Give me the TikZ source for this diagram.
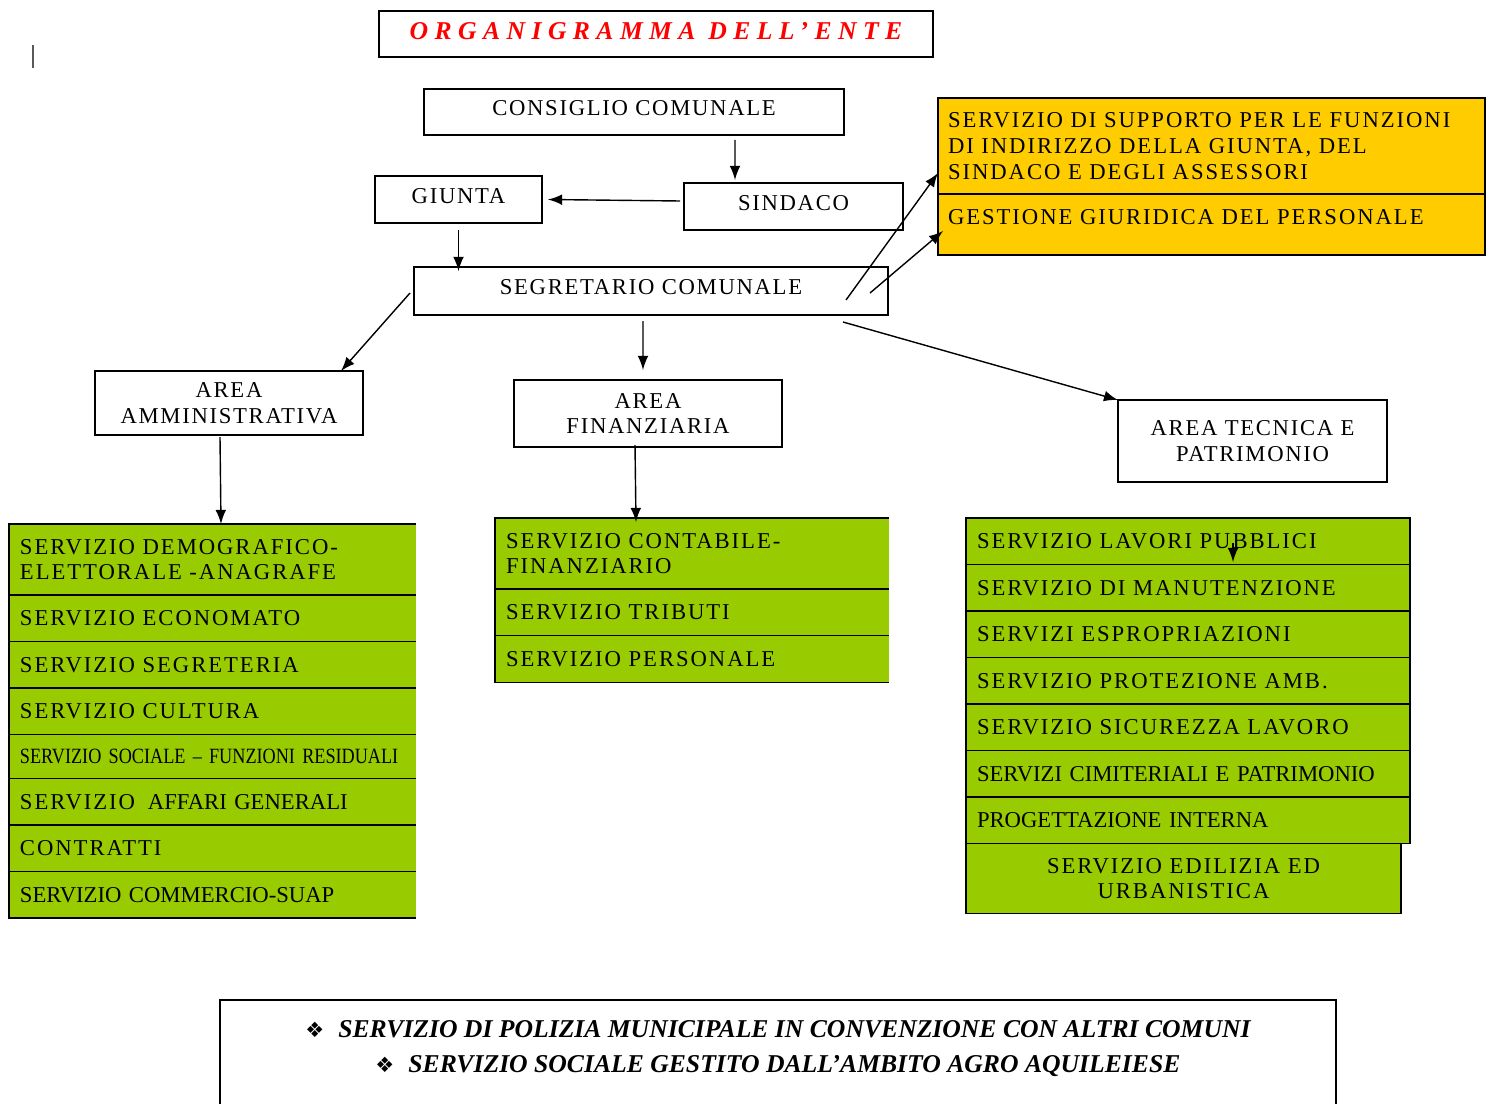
\documentclass[tikz,border=0pt]{standalone}
\usepackage{fontspec}
\setmainfont{Liberation Serif}
\newfontfamily\spcfont[LetterSpace=8.6]{Liberation Serif}
\newfontfamily\boxfont[LetterSpace=7.5]{Liberation Serif}
\newfontfamily\nrwfont[FakeStretch=0.835]{Liberation Serif}
\newfontfamily\ttlfont[LetterSpace=25]{Liberation Serif}
\newfontfamily\symfont{DejaVu Sans}
\usetikzlibrary{positioning}

\definecolor{grn}{RGB}{153,204,0}
\definecolor{ylw}{RGB}{255,204,0}
\newcommand{\sz}{\fontsize{6.45}{7.3}\selectfont}

\begin{document}
\begin{tikzpicture}[
	main/.style={rectangle, draw=black, inner sep=0pt, outer sep=0pt, align=center, font=\boxfont\sz},
	one/.style={main, text height=4.3pt, text depth=2.3pt},
	row/.style={rectangle, draw=black, fill=grn, inner ysep=0pt, inner xsep=0.11cm, outer sep=0pt, align=left, font=\spcfont\sz, minimum height=0.465cm},
	openrow/.style={row, draw=none},
	yrow/.style={row, fill=ylw, inner xsep=0.10cm, text width=5.27cm}
	]
	\useasboundingbox (0,0) rectangle (14.93,-11.03);
	\draw [gray!70!black, line width=0.5pt] (0.33,-0.45) -- (0.33,-0.68);

	\node (title) [main, minimum width=5.54cm, minimum height=0.46cm, text height=5pt, text depth=1.6pt, font=\ttlfont\fontsize{7.3}{8}\selectfont\bfseries\itshape, text=red] at (6.56,-0.34) {ORGANIGRAMMA DELL’ENTE};

	\node (consiglio) [one, minimum width=4.20cm, minimum height=0.46cm] at (6.34,-1.12) {CONSIGLIO COMUNALE};
		\node (giunta) [one, minimum width=1.67cm, minimum height=0.47cm] at (4.585,-1.995) {GIUNTA};
		\node (sindaco) [one, minimum width=2.19cm, minimum height=0.47cm] at (7.935,-2.065) {SINDACO};
		\node (segretario) [one, minimum width=4.74cm, minimum height=0.48cm] at (6.51,-2.91) {SEGRETARIO COMUNALE};

	\node (ysup) [yrow, anchor=north west, minimum height=0.96cm] at (9.38,-0.98) {SERVIZIO DI SUPPORTO PER LE FUNZIONI\\DI INDIRIZZO DELLA GIUNTA, DEL\\SINDACO E DEGLI ASSESSORI};
	\node (ygest) [yrow, below=0pt of ysup, minimum height=0.61cm, text depth=4.5pt] {GESTIONE GIURIDICA DEL PERSONALE};

	\node (areaamm) [main, minimum width=2.68cm, minimum height=0.64cm] at (2.29,-4.03) {AREA\\AMMINISTRATIVA};
	\node (areafin) [main, minimum width=2.68cm, minimum height=0.67cm] at (6.48,-4.135) {AREA\\FINANZIARIA};
	\node (areatec) [main, minimum width=2.69cm, minimum height=0.82cm] at (12.525,-4.41) {AREA TECNICA E\\PATRIMONIO};

	% area amministrativa
	\node (amm1) [openrow, text width=3.85cm, minimum height=0.71cm, anchor=north west] at (0.09,-5.24) {SERVIZIO DEMOGRAFICO-\\ELETTORALE -ANAGRAFE};
	\node (amm2) [openrow, text width=3.85cm, below=0pt of amm1] {SERVIZIO ECONOMATO};
	\node (amm3) [openrow, text width=3.85cm, below=0pt of amm2] {SERVIZIO SEGRETERIA};
	\node (amm4) [openrow, text width=3.85cm, below=0pt of amm3] {SERVIZIO CULTURA};
	\node (amm5) [openrow, text width=3.85cm, minimum height=0.44cm, below=0pt of amm4, font=\nrwfont\fontsize{6.2}{7}\selectfont] {SERVIZIO SOCIALE – FUNZIONI RESIDUALI};
	\node (amm6) [openrow, text width=3.85cm, below=0pt of amm5] {SERVIZIO\hspace{1.5pt} {\rmfamily AFFARI GENERALI}};
	\node (amm7) [openrow, text width=3.85cm, below=0pt of amm6] {CONTRATTI};
	\node (amm8) [openrow, text width=3.85cm, below=0pt of amm7, font=\rmfamily\sz] {SERVIZIO COMMERCIO-SUAP};
	\draw (amm1.north east) -- (amm1.north west) -- (amm8.south west) -- (amm8.south east);
	\foreach \i in {1,...,7} \draw (amm\i.south west) -- (amm\i.south east);

	% area finanziaria
	\node (fin1) [openrow, text width=3.72cm, minimum height=0.71cm, anchor=north west] at (4.95,-5.18) {SERVIZIO CONTABILE-\\FINANZIARIO};
	\node (fin2) [openrow, text width=3.72cm, below=0pt of fin1] {SERVIZIO TRIBUTI};
	\node (fin3) [openrow, text width=3.72cm, minimum height=0.47cm, below=0pt of fin2] {SERVIZIO PERSONALE};
	\draw (fin1.north east) -- (fin1.north west) -- (fin3.south west) -- (fin3.south east);
	\foreach \i in {1,2} \draw (fin\i.south west) -- (fin\i.south east);

	% area tecnica
	\node (tec1) [row, text width=4.22cm, anchor=north west] at (9.66,-5.18) {SERVIZIO LAVORI PUBBLICI};
	\node (tec2) [row, text width=4.22cm, below=0pt of tec1] {SERVIZIO DI MANUTENZIONE};
	\node (tec3) [row, text width=4.22cm, below=0pt of tec2] {SERVIZI ESPROPRIAZIONI};
	\node (tec4) [row, text width=4.22cm, below=0pt of tec3] {SERVIZIO PROTEZIONE AMB.};
	\node (tec5) [row, text width=4.22cm, below=0pt of tec4] {SERVIZIO SICUREZZA LAVORO};
	\node (tec6) [row, text width=4.22cm, below=0pt of tec5, font=\rmfamily\sz] {SERVIZI CIMITERIALI E PATRIMONIO};
	\node (tec7) [row, text width=4.22cm, below=0pt of tec6, font=\rmfamily\sz] {PROGETTAZIONE INTERNA};
	\node (tec8) [row, text width=4.13cm, minimum height=0.70cm, align=center, anchor=north west] at (tec7.south west) {SERVIZIO EDILIZIA ED\\URBANISTICA};

	\node (note) [main, minimum width=11.16cm, inner ysep=5.7pt, text depth=1cm, anchor=north, font=\fontsize{7.3}{10.2}\selectfont\bfseries\itshape] at (7.78,-10.00) {{\symfont\mdseries\upshape\fontsize{6}{6}\selectfont ❖}\hspace{4pt}SERVIZIO DI POLIZIA MUNICIPALE IN CONVENZIONE CON ALTRI COMUNI\\{\symfont\mdseries\upshape\fontsize{6}{6}\selectfont ❖}\hspace{4pt}SERVIZIO SOCIALE GESTITO DALL’AMBITO AGRO AQUILEIESE};

	\coordinate (strayA) at (12.33,-5.43);
	\coordinate (strayB) at (12.33,-5.62);

	\draw [-latex] ([xshift=1.01cm,yshift=-0.05cm]consiglio.south) -- ([xshift=-0.585cm,yshift=0.03cm]sindaco.north);
	\draw [-latex] ([xshift=-0.04cm,yshift=0.055cm]sindaco.west) -- ([xshift=0.06cm]giunta.east);
	\draw [-latex, shorten <=0.07cm, shorten >=-0.04cm] (giunta.south) -- (giunta.south |- segretario.north);
	\draw [-latex] ([xshift=-0.04cm,yshift=-0.02cm]segretario.west) -- ([xshift=-0.22cm]areaamm.north east);
	\draw [-latex] ([xshift=-0.08cm,yshift=-0.06cm]segretario.south) -- ([xshift=-0.05cm,yshift=0.1cm]areafin.north);
	\draw [-latex] ([xshift=-0.45cm,yshift=-0.07cm]segretario.south east) -- (areatec.north west);
	\draw [-latex] ([xshift=-0.42cm,yshift=0.15cm]segretario.south east) -- ([yshift=0.21cm]ysup.south west);
	\draw [-latex] ([xshift=-0.18cm,yshift=0.22cm]segretario.south east) -- ([xshift=0.05cm,yshift=-0.065cm]ygest.west);
	\draw [-latex] ([xshift=-0.09cm,yshift=-0.02cm]areaamm.south) -- ([xshift=0.085cm]amm1.north);
	\draw [-latex] ([xshift=-0.13cm,yshift=0.02cm]areafin.south) -- ([xshift=-0.56cm,yshift=-0.04cm]fin1.north);
	\draw [-latex] (strayA) -- (strayB);
\end{tikzpicture}
\end{document}
